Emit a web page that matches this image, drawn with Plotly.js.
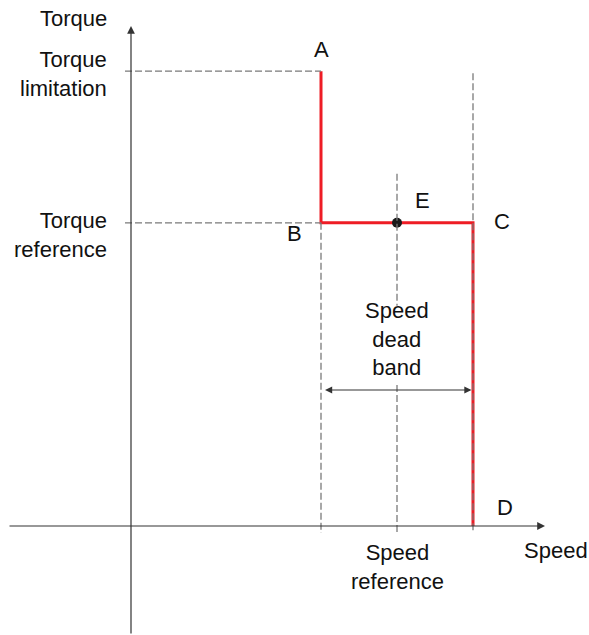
<!DOCTYPE html>
<html>
<head>
<meta charset="utf-8">
<script src="https://cdn.plot.ly/plotly-3.0.1.min.js"></script>
<style>html,body{margin:0;padding:0;background:#fff;}#chart{width:589px;height:635px;}</style>
</head>
<body>
<div id="chart"></div>
<script>
// ---- data ----
const pointNames  = ['A', 'B', 'C', 'D', 'E'];
const pointSpeed  = [2.5, 2.5, 4.5, 4.5, 3.5];
const pointTorque = [3, 2, 2, 0, 2];
const curveSpeed  = [2.5, 2.5, 4.5, 4.5];
const curveTorque = [3, 2, 2, 0];
const torqueLimitation = 3;
const torqueReference  = 2;
const speedReference   = 3.5;
const deadBandLow  = 2.5;
const deadBandHigh = 4.5;
const yTickLabels = ['Torque<br>reference', 'Torque<br>limitation'];

// ---- geometry (pixel mapping) ----
const W = 589, H = 635;
const ox = 131, oy = 526;          // origin pixel
const pxX = 76, pxY = 151.6;       // pixels per unit
const xr = [-ox / pxX, (W - ox) / pxX];
const yr = [-(H - oy) / pxY, oy / pxY];
const dx = p => p / pxX, dy = p => p / pxY;

const FONT = {family: 'Liberation Sans, Arial, sans-serif', size: 22, color: '#111'};
const DASH = {color: '#7a7a7a', width: 1.3, dash: '7px,3px'};
const AXC = '#333';

const shapes = [];
// horizontal dashed guides
[torqueLimitation, torqueReference].forEach(t => {
  shapes.push({type: 'line', xref: 'x', yref: 'y', x0: -dx(6), x1: deadBandLow, y0: t, y1: t, line: DASH});
});
// vertical dashed guides
shapes.push({type: 'line', xref: 'x', yref: 'y', x0: deadBandLow, x1: deadBandLow, y0: torqueReference, y1: -dy(7), line: DASH});
shapes.push({type: 'line', xref: 'x', yref: 'y', x0: deadBandHigh, x1: deadBandHigh, y0: torqueLimitation - dy(2), y1: -dy(7), line: DASH});
shapes.push({type: 'line', xref: 'x', yref: 'y', x0: speedReference, x1: speedReference, y0: torqueReference + dy(49), y1: torqueReference - dy(83), line: DASH});
shapes.push({type: 'line', xref: 'x', yref: 'y', x0: speedReference, x1: speedReference, y0: dy(141), y1: -dy(7), line: DASH});

const ann = [];
// axes with arrows
ann.push({x: xr[0] + dx(545), y: 0, ax: xr[0] + dx(8), ay: 0, xref: 'x', yref: 'y', axref: 'x', ayref: 'y',
  text: '', showarrow: true, arrowhead: 2, arrowsize: 1.3, arrowwidth: 1.2, arrowcolor: AXC});
ann.push({x: 0, y: yr[1] - dy(26), ax: 0, ay: yr[0], xref: 'x', yref: 'y', axref: 'x', ayref: 'y',
  text: '', showarrow: true, arrowhead: 2, arrowsize: 1.3, arrowwidth: 1.2, arrowcolor: AXC});
// dead band double arrow
ann.push({x: deadBandHigh - dx(1.5), y: dy(136), ax: deadBandLow + dx(2.5), ay: dy(136), xref: 'x', yref: 'y', axref: 'x', ayref: 'y',
  text: '', showarrow: true, arrowhead: 2, startarrowhead: 2, arrowside: 'end+start', arrowsize: 1.2, startarrowsize: 1.2, arrowwidth: 1.2, arrowcolor: AXC});

// axis titles
ann.push({x: 0, y: yr[1], xref: 'x', yref: 'y', xanchor: 'right', yanchor: 'top', xshift: -22, yshift: -4,
  text: 'Torque', showarrow: false, font: FONT});
ann.push({x: xr[0] + dx(545), y: 0, xref: 'x', yref: 'y', xanchor: 'left', yanchor: 'top', xshift: -23, yshift: -10,
  text: 'Speed', showarrow: false, font: FONT});
// y tick labels
[torqueReference, torqueLimitation].forEach((t, i) => {
  ann.push({x: 0, y: t, xref: 'x', yref: 'y', xanchor: 'right', yanchor: 'middle', align: 'right',
    xshift: -22, yshift: i === 0 ? -12 : -3, text: yTickLabels[i], showarrow: false, font: FONT});
});
// x tick label
ann.push({x: speedReference, y: 0, xref: 'x', yref: 'y', xanchor: 'center', yanchor: 'top', yshift: -12,
  text: 'Speed<br>reference', showarrow: false, font: FONT});
// dead band label
ann.push({x: speedReference, y: dy(136), xref: 'x', yref: 'y', xanchor: 'center', yanchor: 'bottom', yshift: 8,
  text: 'Speed<br>dead<br>band', showarrow: false, font: FONT});
// point letters
const letterShift = {A: [0, 22], B: [-27, -11], C: [29, 1], D: [32, 19], E: [25, 22]};
pointNames.forEach((n, i) => {
  ann.push({x: pointSpeed[i], y: pointTorque[i], xref: 'x', yref: 'y', xanchor: 'center', yanchor: 'middle',
    xshift: letterShift[n][0], yshift: letterShift[n][1], text: n, showarrow: false, font: FONT});
});

const traces = [
  {x: curveSpeed, y: curveTorque, mode: 'lines', line: {color: '#ee1c25', width: 3}, hoverinfo: 'skip'},
  {x: [pointSpeed[4]], y: [pointTorque[4]], mode: 'markers', marker: {color: '#1a1a1a', size: 10}, hoverinfo: 'skip'}
];

const layout = {
  width: W, height: H,
  margin: {l: 0, r: 0, t: 0, b: 0},
  paper_bgcolor: '#fff', plot_bgcolor: '#fff',
  showlegend: false,
  xaxis: {range: xr, visible: false, fixedrange: true},
  yaxis: {range: yr, visible: false, fixedrange: true},
  shapes: shapes,
  annotations: ann
};

Plotly.newPlot('chart', traces, layout, {staticPlot: true, displayModeBar: false});
</script>
</body>
</html>
